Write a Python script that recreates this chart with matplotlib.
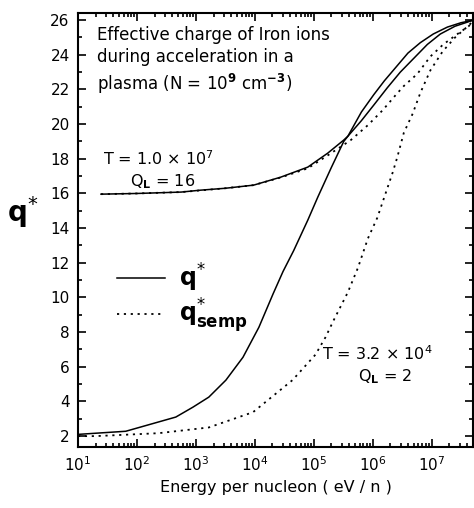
import numpy as np
import matplotlib
matplotlib.use("Agg")
import matplotlib.pyplot as plt
from matplotlib.ticker import MultipleLocator, LogLocator, NullFormatter

# log10(energy per nucleon, eV/n) and effective charge
# T = 1.0e7, Q_L = 16
logE_hot = [1.39, 2.0, 2.75, 3.08, 3.5, 3.98, 4.44, 4.9, 5.24, 5.51, 5.58,
            5.81, 6.02, 6.25, 6.47, 6.7, 6.93, 7.15, 7.4, 7.71]
q_hot = [15.96, 16.0, 16.08, 16.19, 16.3, 16.48, 16.94, 17.52, 18.33, 19.08, 19.3,
         20.2, 21.1, 22.1, 23.0, 23.8, 24.6, 25.2, 25.65, 26.0]
logE_hot_semp = [1.39, 2.0, 2.75, 3.5, 3.98, 4.44, 4.9, 5.24, 5.63, 5.92,
                 6.17, 6.39, 6.53, 6.76, 6.98, 7.2, 7.44, 7.63, 7.71]
q_hot_semp = [15.96, 16.0, 16.08, 16.3, 16.48, 16.92, 17.45, 18.2, 19.08, 19.94,
              20.8, 21.67, 22.2, 22.9, 23.9, 24.6, 25.2, 25.65, 25.9]

# T = 3.2e4, Q_L = 2
logE_cold = [1.0, 1.81, 2.66, 2.95, 3.22, 3.51, 3.8, 4.07, 4.31, 4.48, 4.66,
             4.9, 5.07, 5.3, 5.51, 5.58, 5.81, 6.02, 6.2, 6.4, 6.6, 6.81,
             7.03, 7.27, 7.5, 7.71]
q_cold = [2.1, 2.28, 3.1, 3.67, 4.25, 5.23, 6.55, 8.28, 10.2, 11.5, 12.7,
          14.46, 15.79, 17.5, 19.0, 19.3, 20.7, 21.7, 22.5, 23.3, 24.1, 24.7,
          25.2, 25.6, 25.85, 26.0]
logE_cold_semp = [1.0, 1.3, 2.37, 3.22, 3.97, 4.64, 5.03, 5.2, 5.34, 5.58,
                  5.75, 5.92, 6.08, 6.22, 6.34, 6.42, 6.53, 6.68, 6.81, 6.98,
                  7.19, 7.4, 7.6, 7.71]
q_cold_semp = [2.0, 2.0, 2.17, 2.5, 3.38, 5.23, 6.7, 7.7, 8.69, 10.3, 11.7,
               13.4, 14.6, 16.0, 17.2, 18.1, 19.5, 20.6, 21.8, 23.1, 24.2,
               25.0, 25.6, 25.95]

fig = plt.figure(figsize=(4.74, 5.08), dpi=100)
ax = fig.add_axes([0.1646, 0.120, 0.834, 0.854])

dots = (0, (1.2, 2.6))
ax.plot(10 ** np.array(logE_hot), q_hot, color="black", lw=1.1)
ax.plot(10 ** np.array(logE_cold), q_cold, color="black", lw=1.1)
ax.plot(10 ** np.array(logE_hot_semp), q_hot_semp, color="black", lw=1.3, ls=dots)
ax.plot(10 ** np.array(logE_cold_semp), q_cold_semp, color="black", lw=1.3, ls=dots)

ax.set_xscale("log")
ax.set_xlim(10, 10 ** 7.71)
ax.set_ylim(1.37, 26.4)
ax.yaxis.set_major_locator(MultipleLocator(2))
ax.yaxis.set_minor_locator(MultipleLocator(1))
ax.xaxis.set_major_locator(LogLocator(base=10, numticks=10))
ax.xaxis.set_minor_locator(LogLocator(base=10, subs=np.arange(2, 10), numticks=20))
ax.xaxis.set_minor_formatter(NullFormatter())

ax.tick_params(which="both", direction="in", top=True, right=True, width=1.2)
ax.tick_params(which="major", length=6, labelsize=11, pad=6)
ax.tick_params(which="minor", length=3)
for s in ax.spines.values():
    s.set_linewidth(1.5)

ax.set_xlabel("Energy per nucleon ( eV / n )", fontsize=11.5, labelpad=4)
ax.set_ylabel(r"$\mathbf{q}^{*}$", fontsize=20, rotation=0, labelpad=14)
ax.yaxis.set_label_coords(-0.14, 0.5)

ax.text(0.048, 0.97,
        "Effective charge of Iron ions\nduring acceleration in a\n"
        r"plasma (N = 10$^{\mathbf{9}}$ cm$^{\mathbf{-3}}$)",
        transform=ax.transAxes, fontsize=12, va="top", ha="left", linespacing=1.3)
ax.text(0.063, 0.665, r"T = 1.0 $\times$ 10$^{7}$", transform=ax.transAxes,
        fontsize=11.5, va="center", ha="left")
ax.text(0.132, 0.612, r"Q$_{\mathbf{L}}$ = 16", transform=ax.transAxes,
        fontsize=11.5, va="center", ha="left")
ax.text(0.618, 0.215, r"T = 3.2 $\times$ 10$^{4}$", transform=ax.transAxes,
        fontsize=11.5, va="center", ha="left")
ax.text(0.709, 0.162, r"Q$_{\mathbf{L}}$ = 2", transform=ax.transAxes,
        fontsize=11.5, va="center", ha="left")

leg = ax.legend(ax.lines[0:1] + ax.lines[2:3],
                [r"$\mathbf{q}^{*}$", r"$\mathbf{q}^{*}_{\mathbf{semp}}$"],
                loc="upper left", bbox_to_anchor=(0.07, 0.455), frameon=False,
                fontsize=17, handlelength=2.0, handletextpad=0.6,
                labelspacing=0.12, borderpad=0)

fig.savefig("out.png", dpi=100)
